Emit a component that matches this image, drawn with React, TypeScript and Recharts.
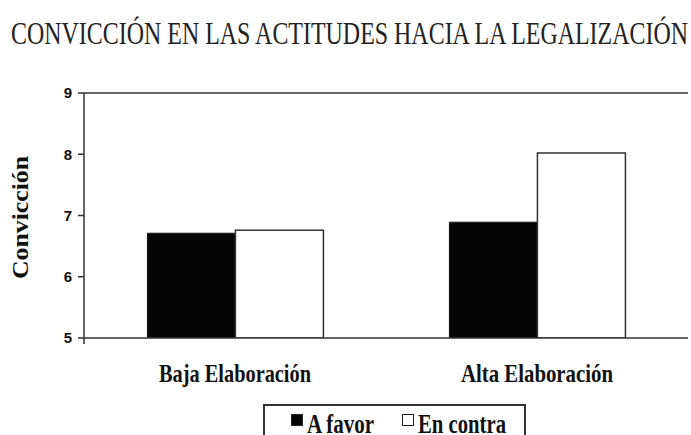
import React from 'react';
import { BarChart, Bar, XAxis, YAxis, ReferenceLine, Legend } from 'recharts';

const title = 'CONVICCIÓN EN LAS ACTITUDES HACIA LA LEGALIZACIÓN';
const yLabel = 'Convicción';
const categories = ['Baja Elaboración', 'Alta Elaboración'];
const seriesNames = ['A favor', 'En contra'];
const aFavor = [6.71, 6.89];
const enContra = [6.76, 8.02];
const yTicks = [5, 6, 7, 8, 9];
const boundaryTicks = [0, 1, 2];

const data = categories.map((c, i) => ({ cat: c, aFavor: aFavor[i], enContra: enContra[i] }));

const SERIF = "'Liberation Serif', 'Times New Roman', serif";
const AXIS = '#333';

const CatTick = (props: any) => {
  const { x, y, payload } = props;
  return (
    <text
      x={x}
      y={y + 38}
      textAnchor="middle"
      fontFamily={SERIF}
      fontWeight="bold"
      fontSize={26}
      fill="#111"
      textLength={152}
      lengthAdjust="spacingAndGlyphs"
    >
      {payload.value}
    </text>
  );
};

const YLabel = (props: any) => {
  const vb = props.viewBox || { x: 0, y: 93, width: 84, height: 245 };
  const cx = vb.x + 20;
  const cy = vb.y + vb.height / 2 + 2;
  return (
    <text
      transform={`translate(${cx},${cy}) rotate(-90)`}
      textAnchor="middle"
      dominantBaseline="central"
      fontFamily={SERIF}
      fontWeight="bold"
      fontSize={23}
      fill="#111"
      textLength={123}
      lengthAdjust="spacingAndGlyphs"
    >
      {yLabel}
    </text>
  );
};

const itemStarts = [26, 137];
const itemTextLen = [67, 88];

const LegendContent = (props: any) => {
  const payload = props.payload || [];
  return (
    <div
      style={{
        border: '2px solid #333',
        width: 263,
        height: 40,
        boxSizing: 'border-box',
        background: '#fff',
      }}
    >
      <svg width={259} height={36} style={{ display: 'block' }}>
        {payload.map((p: any, i: number) => {
          const x0 = itemStarts[i] ?? 26 + i * 111;
          return (
            <g key={i}>
              <rect x={x0 + 0.5} y={8.5} width={11} height={11} fill={p.color} stroke="#222" strokeWidth={1} />
              <text
                x={x0 + 16}
                y={27}
                fontFamily={SERIF}
                fontWeight="bold"
                fontSize={27}
                fill="#111"
                textLength={itemTextLen[i] ?? 70}
                lengthAdjust="spacingAndGlyphs"
              >
                {p.value}
              </text>
            </g>
          );
        })}
      </svg>
    </div>
  );
};

export default function App() {
  return (
    <div style={{ position: 'absolute', left: 0, top: 0, width: 691, height: 435, background: '#fff' }}>
      <BarChart
        width={691}
        height={435}
        data={data}
        margin={{ top: 93, right: 3, bottom: 0, left: 0 }}
        barCategoryGap="21%"
        barGap={0}
      >
        <XAxis
          xAxisId="a"
          type="number"
          domain={[0, 2]}
          ticks={boundaryTicks}
          allowDataOverflow
          height={6}
          tickSize={6}
          tickFormatter={() => ''}
          axisLine={{ stroke: AXIS, strokeWidth: 1.5 }}
          tickLine={{ stroke: AXIS, strokeWidth: 1.5 }}
        />
        <XAxis
          xAxisId="b"
          dataKey="cat"
          type="category"
          height={91}
          axisLine={false}
          tickLine={false}
          tickSize={0}
          tickMargin={0}
          interval={0}
          tick={<CatTick />}
        />
        <YAxis
          domain={[5, 9]}
          ticks={yTicks}
          width={84}
          tickSize={6}
          tickMargin={6}
          interval={0}
          allowDataOverflow
          axisLine={{ stroke: AXIS, strokeWidth: 1.5 }}
          tickLine={{ stroke: AXIS, strokeWidth: 1.5 }}
          tick={{ fontFamily: "'Liberation Sans', Arial, sans-serif", fontWeight: 'bold', fontSize: 15, fill: '#111' }}
          label={YLabel}
        />
        <ReferenceLine xAxisId="a" y={9} stroke={AXIS} strokeWidth={1.5} />
        <ReferenceLine xAxisId="a" x={2} stroke={AXIS} strokeWidth={1.5} />
        <Bar
          xAxisId="b"
          dataKey="aFavor"
          name={seriesNames[0]}
          fill="#050505"
          stroke="#111"
          strokeWidth={1}
          isAnimationActive={false}
        />
        <Bar
          xAxisId="b"
          dataKey="enContra"
          name={seriesNames[1]}
          fill="#ffffff"
          stroke="#333"
          strokeWidth={1.5}
          isAnimationActive={false}
        />
        <Legend
          layout="horizontal"
          verticalAlign="middle"
          align="center"
          content={<LegendContent />}
          wrapperStyle={{ left: 263, top: 404, width: 263, height: 40, bottom: 'auto', right: 'auto' }}
        />
      </BarChart>
      <svg
        width={691}
        height={60}
        style={{ position: 'absolute', left: 0, top: 0, pointerEvents: 'none' }}
      >
        <text
          x={11}
          y={44}
          fontFamily={SERIF}
          fontSize={32}
          fill="#222"
          textLength={677}
          lengthAdjust="spacingAndGlyphs"
        >
          {title}
        </text>
      </svg>
    </div>
  );
}
